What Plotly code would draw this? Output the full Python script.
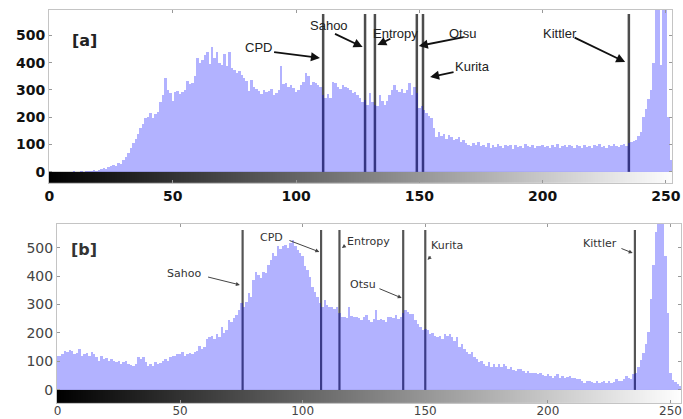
import plotly.graph_objects as go

# ---------------- data ----------------
bins = list(range(256))

counts_a = [
    0, 0, 0, 0, 0, 0, 0, 0, 0, 0,
    2, 0, 0, 3, 0, 2, 3, 2, 5, 4,
    8, 12, 15, 10, 18, 22, 26, 20, 33, 30,
    44, 55, 70, 88, 105, 120, 140, 160, 175, 197,
    202, 215, 197, 210, 220, 257, 281, 342, 300, 288,
    260, 292, 297, 285, 292, 300, 333, 321, 325, 351,
    416, 400, 410, 427, 438, 395, 457, 416, 438, 400,
    392, 430, 386, 440, 380, 374, 362, 370, 356, 345,
    333, 297, 338, 310, 303, 297, 285, 300, 291, 295,
    303, 280, 288, 300, 386, 320, 327, 311, 318, 306,
    292, 300, 318, 330, 361, 350, 318, 330, 325, 318,
    311, 281, 270, 285, 270, 330, 324, 311, 305, 318,
    311, 306, 300, 288, 294, 282, 270, 257, 262, 246,
    288, 255, 246, 240, 282, 260, 246, 258, 282, 300,
    318, 299, 294, 305, 288, 299, 324, 282, 310, 290,
    234, 240, 228, 215, 205, 197, 160, 128, 145, 133,
    140, 120, 135, 128, 118, 120, 128, 110, 116, 105,
    99, 94, 104, 99, 110, 94, 100, 92, 105, 88,
    98, 90, 102, 95, 88, 100, 93, 97, 85, 99,
    92, 96, 88, 101, 94, 90, 99, 87, 96, 93,
    100, 91, 95, 89, 98, 92, 102, 88, 95, 97,
    90, 99, 93, 86, 97, 95, 88, 100, 92, 96,
    89, 98, 94, 102, 91, 96, 87, 99, 93, 101,
    95, 90, 98, 102, 96, 105, 110, 112, 117, 130,
    145, 200, 230, 265, 300, 400, 620, 700, 390, 650,
    620, 200, 45, 10, 0, 0,
]

counts_b = [
    120, 118, 125, 138, 132, 140, 138, 126, 130, 144,
    120, 126, 128, 120, 132, 125, 115, 103, 120, 109,
    112, 103, 109, 100, 97, 103, 91, 97, 100, 91,
    88, 85, 91, 115, 110, 115, 97, 85, 90, 85,
    97, 91, 95, 103, 109, 100, 115, 120, 118, 126,
    126, 132, 120, 126, 130, 126, 132, 138, 156, 144,
    150, 179, 185, 191, 180, 197, 185, 221, 200, 209,
    245, 240, 251, 262, 280, 304, 292, 310, 339, 327,
    386, 416, 404, 392, 416, 410, 440, 457, 481, 470,
    505, 495, 505, 510, 500, 516, 528, 505, 490, 481,
    469, 434, 420, 398, 363, 345, 327, 304, 292, 315,
    300, 292, 292, 285, 292, 270, 256, 256, 251, 292,
    260, 256, 256, 251, 245, 256, 262, 245, 239, 250,
    280, 245, 250, 245, 239, 256, 256, 251, 262, 250,
    256, 270, 280, 274, 268, 268, 245, 233, 220, 209,
    215, 209, 197, 200, 191, 185, 191, 179, 197, 191,
    197, 185, 173, 185, 150, 160, 144, 132, 126, 132,
    115, 110, 97, 103, 92, 85, 97, 79, 91, 82,
    91, 79, 91, 84, 73, 79, 70, 67, 73, 73,
    67, 61, 67, 61, 58, 61, 55, 61, 52, 49,
    55, 48, 43, 49, 55, 43, 49, 43, 46, 49,
    43, 43, 40, 37, 33, 25, 31, 31, 28, 25,
    31, 25, 28, 31, 25, 31, 25, 28, 37, 33,
    31, 40, 49, 43, 37, 55, 60, 80, 105, 130,
    160, 205, 320, 440, 555, 700, 720, 600, 470, 270,
    60, 35, 28, 20, 12, 5,
]

methods_a = ["CPD", "Sahoo", "Entropy", "Otsu", "Kurita", "Kittler"]
thresholds_a = [111, 128, 132, 149, 151.5, 235]
methods_b = ["Sahoo", "CPD", "Entropy", "Otsu", "Kurita", "Kittler"]
thresholds_b = [75.5, 107.5, 115, 141, 150, 235.5]

x_ticks = [0, 50, 100, 150, 200, 250]
y_ticks = [0, 100, 200, 300, 400, 500]

W, H = 683, 419
BAR = "rgba(0,0,255,0.30)"
LINE = "#4d4d4d"

fig = go.Figure()

# gray-level gradient bars under each histogram
edges = [b - 0.5 for b in bins] + [255.5]
for xa, ya, ybot in (("x", "y", -42), ("x2", "y2", -46)):
    fig.add_trace(go.Heatmap(
        z=[bins], x=edges, y=[ybot, 0], zmin=0, zmax=255,
        colorscale=[[0, "black"], [1, "white"]], showscale=False,
        hoverinfo="skip", xaxis=xa, yaxis=ya))

fig.add_trace(go.Bar(x=bins, y=counts_a, marker=dict(color=BAR, line=dict(width=0)),
                     xaxis="x", yaxis="y", showlegend=False))
fig.add_trace(go.Bar(x=bins, y=counts_b, marker=dict(color=BAR, line=dict(width=0)),
                     xaxis="x2", yaxis="y2", showlegend=False))

shapes = []
for t in thresholds_a:
    shapes.append(dict(type="line", xref="x", yref="y", x0=t, x1=t, y0=-3, y1=578,
                       line=dict(color=LINE, width=2.5), layer="below"))
for t in thresholds_b:
    shapes.append(dict(type="line", xref="x2", yref="y2", x0=t, x1=t, y0=-3, y1=562,
                       line=dict(color="#555555", width=2.2), layer="below"))

ann = []
# panel labels
ann.append(dict(text="<b>[a]</b>", x=14, y=482, xref="x", yref="y", showarrow=False,
                font=dict(family="DejaVu Sans", size=16, color="#222")))
ann.append(dict(text="<b>[b]</b>", x=10.8, y=492, xref="x2", yref="y2", showarrow=False,
                font=dict(family="DejaVu Sans", size=16, color="#333")))

# top panel labels: (text, x, y, tail_x, tail_y, head_x, head_y)
top_labels = [
    ("CPD", 84.6, 457, 90.5, 439, 109.7, 417),
    ("Sahoo", 113.2, 537, 115.2, 508, 127.0, 457),
    ("Entropy", 140.2, 508, 138.9, 490, 133.0, 464),
    ("Otsu", 167.5, 508, 168.6, 494, 149.8, 461),
    ("Kurita", 171.5, 384, 164.5, 366, 154.4, 347),
    ("Kittler", 207.1, 508, 212.4, 494, 233.5, 402),
]
for txt, tx, ty, ax, ay, hx, hy in top_labels:
    ann.append(dict(text=txt, x=tx, y=ty, xref="x", yref="y", showarrow=False,
                    font=dict(family="Liberation Sans", size=13, color="#222")))
    ann.append(dict(text="", x=hx, y=hy, ax=ax, ay=ay, xref="x", yref="y",
                    axref="x", ayref="y", showarrow=True, arrowhead=2, arrowsize=1,
                    arrowwidth=1.8, arrowcolor="#111"))

bot_labels = [
    ("Sahoo", 51.4, 408, 60.8, 398, 74.4, 369),
    ("CPD", 87.3, 534, 94.0, 527, 106.8, 485),
    ("Entropy", 126.8, 520, 117.6, 509, 116.0, 499),
    ("Otsu", 124.6, 369, 130.7, 358, 140.4, 323),
    ("Kurita", 158.9, 506, 152.9, 474, 150.9, 457),
    ("Kittler", 221.2, 513, 229.4, 499, 234.6, 481),
]
for txt, tx, ty, ax, ay, hx, hy in bot_labels:
    ann.append(dict(text=txt, x=tx, y=ty, xref="x2", yref="y2", showarrow=False,
                    font=dict(family="DejaVu Sans", size=11, color="#333")))
    ann.append(dict(text="", x=hx, y=hy, ax=ax, ay=ay, xref="x2", yref="y2",
                    axref="x2", ayref="y2", showarrow=True, arrowhead=2, arrowsize=0.8,
                    arrowwidth=1, arrowcolor="#444"))

axis_common = dict(showgrid=False, zeroline=False, showline=True, mirror="ticks",
                   linecolor="#c4c4c4", linewidth=1, ticks="inside", ticklen=3,
                   tickcolor="#999", automargin=False)

fig.update_layout(
    width=W, height=H,
    margin=dict(l=0, r=0, t=0, b=0, autoexpand=False),
    paper_bgcolor="white", plot_bgcolor="white",
    bargap=0, showlegend=False,
    shapes=shapes, annotations=ann,
    xaxis=dict(domain=[49 / W, 672 / W], range=[-0.2, 252.5], anchor="y",
               tickvals=x_ticks, ticktext=[str(v) for v in x_ticks],
               tickfont=dict(family="DejaVu Sans", size=14, color="#111", weight="bold"),
               ticklabeloverflow="allow", **axis_common),
    yaxis=dict(domain=[1 - 183.3 / H, 1 - 10 / H], range=[-42, 592.6], anchor="x",
               tickvals=y_ticks, ticktext=[str(v) for v in y_ticks],
               tickfont=dict(family="DejaVu Sans", size=14, color="#111", weight="bold"),
               **axis_common),
    xaxis2=dict(domain=[57 / W, 681 / W], range=[-0.2, 254.3], anchor="y2",
                tickvals=x_ticks, ticktext=[str(v) for v in x_ticks],
                tickfont=dict(family="DejaVu Sans", size=12, color="#444"),
                ticklabelstandoff=-3, ticklabeloverflow="allow", **axis_common),
    yaxis2=dict(domain=[1 - 403 / H, 1 - 224 / H], range=[-46, 583], anchor="x2",
                tickvals=y_ticks, ticktext=[str(v) for v in y_ticks],
                tickfont=dict(family="DejaVu Sans", size=14, color="#444"),
                **axis_common),
)

fig.write_html(
    "out.html",
    config={"displayModeBar": False},
    post_script="document.body.style.margin='0';document.body.style.overflow='hidden';",
)
